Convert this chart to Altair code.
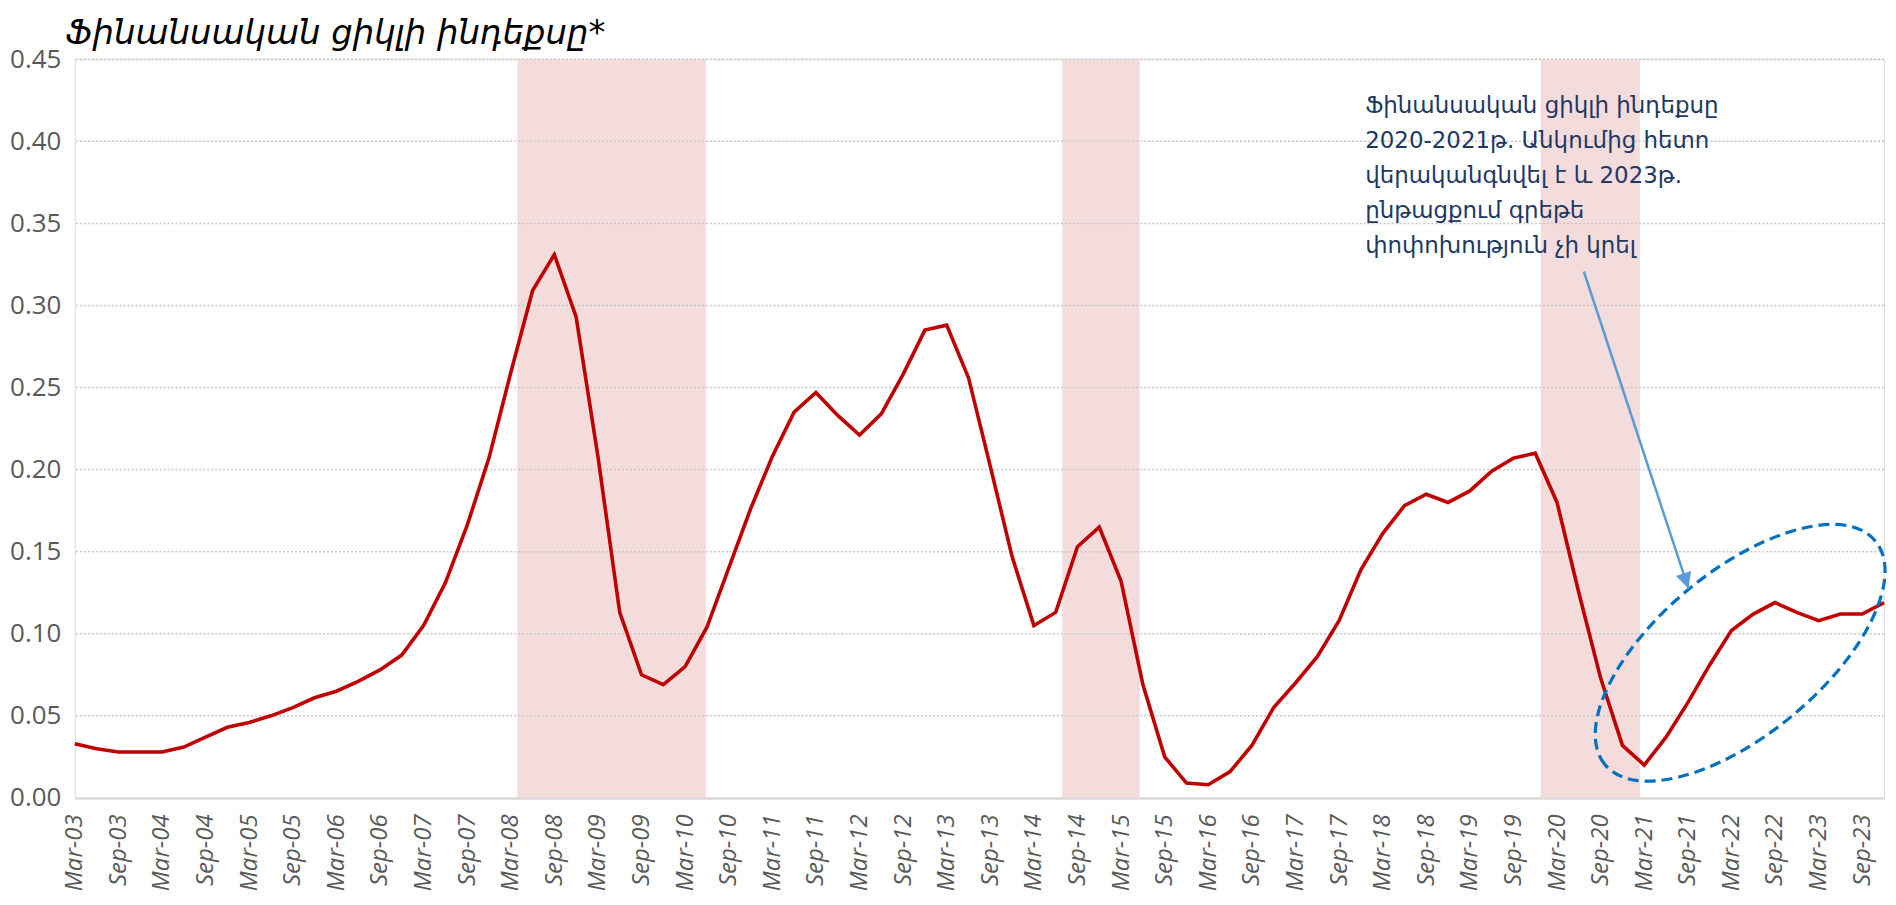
import json
import altair as alt
import pandas as pd

# ---------------- data ----------------
months = ["Mar", "Jun", "Sep", "Dec"]
years = list(range(2003, 2024))
quarters = [f"{m}-{y % 100:02d}" for y in years for m in months]

index_values = [
    0.033, 0.030, 0.028, 0.028,   # 2003
    0.028, 0.031, 0.037, 0.043,   # 2004
    0.046, 0.050, 0.055, 0.061,   # 2005
    0.065, 0.071, 0.078, 0.087,   # 2006
    0.105, 0.131, 0.166, 0.207,   # 2007
    0.259, 0.309, 0.331, 0.293,   # 2008
    0.208, 0.113, 0.075, 0.069,   # 2009
    0.080, 0.104, 0.140, 0.176,   # 2010
    0.208, 0.235, 0.247, 0.233,   # 2011
    0.221, 0.234, 0.258, 0.285,   # 2012
    0.288, 0.256, 0.202, 0.147,   # 2013
    0.105, 0.113, 0.153, 0.165,   # 2014
    0.132, 0.069, 0.025, 0.009,   # 2015
    0.008, 0.016, 0.032, 0.055,   # 2016
    0.070, 0.086, 0.108, 0.139,   # 2017
    0.161, 0.178, 0.185, 0.180,   # 2018
    0.187, 0.199, 0.207, 0.210,   # 2019
    0.180, 0.125, 0.073, 0.032,   # 2020
    0.020, 0.037, 0.058, 0.081,   # 2021
    0.102, 0.112, 0.119, 0.113,   # 2022
    0.108, 0.112, 0.112, 0.119,   # 2023
]

# shaded periods (in quarter-index units)
band_start = [20.3, 45.3, 67.25]
band_end = [28.95, 48.85, 71.8]

y_ticks = [0.00, 0.05, 0.10, 0.15, 0.20, 0.25, 0.30, 0.35, 0.40, 0.45]

title_text = "Ֆինանսական ցիկլի ինդեքսը*"
note_lines = [
    "Ֆինանսական ցիկլի ինդեքսը",
    "2020-2021թ. Անկումից հետո",
    "վերականգնվել է և 2023թ.",
    "ընթացքում գրեթե",
    "փոփոխություն չի կրել",
]

# annotation anchors (quarter index, index value)
note_pos = (59.2, 0.4281)
arrow_from = (69.23, 0.3207)
arrow_to = (74.03, 0.1275)
ellipse_center = (76.4, 0.0884)

# ---------------- tables ----------------
df = pd.DataFrame({"i": list(range(len(quarters))), "q": quarters, "v": index_values})
bands = pd.DataFrame({"s": band_start, "e": band_end, "lo": 0.0, "hi": 0.45})
grid = pd.DataFrame({"y": y_ticks[1:]})
note = pd.DataFrame({"x": [note_pos[0]], "y": [note_pos[1]], "t": [note_lines]})
arrow = pd.DataFrame({"x": [arrow_from[0]], "y": [arrow_from[1]],
                      "x2": [arrow_to[0]], "y2": [arrow_to[1]]})
tip = pd.DataFrame({"x": [arrow_to[0]], "y": [arrow_to[1]]})
ell = pd.DataFrame({"x": [ellipse_center[0]], "y": [ellipse_center[1]]})

n = len(quarters)
label_expr = json.dumps(quarters, ensure_ascii=False) + "[datum.value]"

xscale = alt.Scale(domain=[0, n - 1], nice=False, zero=False)
yscale = alt.Scale(domain=[0, 0.45], nice=False)

x_axis = alt.Axis(
    values=list(range(0, n, 2)), labelExpr=label_expr, title=None,
    labelAngle=270, labelFont="Open Sans", labelFontStyle="italic",
    labelFontSize=24, labelColor="#595959", ticks=False, labelPadding=16,
    domainColor="#D9D9D9", domainWidth=2.5, grid=False,
    labelOverlap=False, labelBound=False, labelFlush=False,
)
y_axis = alt.Axis(
    values=y_ticks, format=".2f", title=None, labelFont="Open Sans",
    labelFontSize=26, labelColor="#595959", ticks=False, domain=False,
    grid=False, labelPadding=14,
)

band_layer = alt.Chart(bands).mark_rect(color="#F4DCDC").encode(
    x=alt.X("s:Q", scale=xscale, axis=x_axis),
    x2="e:Q",
    y=alt.Y("lo:Q", scale=yscale, axis=y_axis),
    y2="hi:Q",
)

grid_layer = alt.Chart(grid).mark_rule(
    color="#C8C8C8", strokeDash=[2, 2], strokeWidth=1.5
).encode(y=alt.Y("y:Q", scale=yscale))

line_layer = alt.Chart(df).mark_line(
    color="#C00000", strokeWidth=3.6, strokeJoin="miter"
).encode(
    x=alt.X("i:Q", scale=xscale),
    y=alt.Y("v:Q", scale=yscale),
)

note_layer = alt.Chart(note).mark_text(
    align="left", baseline="top", font="DejaVu Sans", fontSize=23,
    lineHeight=35, color="#203864",
).encode(x=alt.X("x:Q", scale=xscale), y=alt.Y("y:Q", scale=yscale), text="t")

arrow_layer = alt.Chart(arrow).mark_rule(color="#5B9BD5", strokeWidth=2.5).encode(
    x=alt.X("x:Q", scale=xscale), y=alt.Y("y:Q", scale=yscale), x2="x2:Q", y2="y2:Q"
)

tip_layer = alt.Chart(tip).mark_point(
    shape="M 0 0 L -0.5 -1 L 0.5 -1 Z", size=1024, filled=True,
    color="#5B9BD5", opacity=1, angle=341.7,
).encode(x=alt.X("x:Q", scale=xscale), y=alt.Y("y:Q", scale=yscale))

ellipse_layer = alt.Chart(ell).mark_point(
    shape="M -1 0 A 1 0.466 0 1 1 1 0 A 1 0.466 0 1 1 -1 0 Z",
    size=123904, filled=False, stroke="#0070C0", strokeWidth=3.2,
    strokeDash=[11, 6], opacity=1, angle=320.4,
).encode(x=alt.X("x:Q", scale=xscale), y=alt.Y("y:Q", scale=yscale))

chart = alt.layer(
    band_layer, grid_layer, line_layer, ellipse_layer, arrow_layer, tip_layer, note_layer
).properties(
    width=1815, height=741,
    autosize=alt.AutoSizeParams(type="none"),
    padding={"left": 67, "top": 50, "right": 4, "bottom": 98},
    title=alt.TitleParams(
        text=title_text, anchor="start", font="DejaVu Sans", fontSize=34,
        fontStyle="italic", fontWeight="normal", color="#000000",
        dx=-9, dy=5, offset=0, frame="group",
    ),
).configure_view(stroke=None).configure(background="white")

chart.save("out.html", embed_options={"renderer": "svg", "actions": False})
